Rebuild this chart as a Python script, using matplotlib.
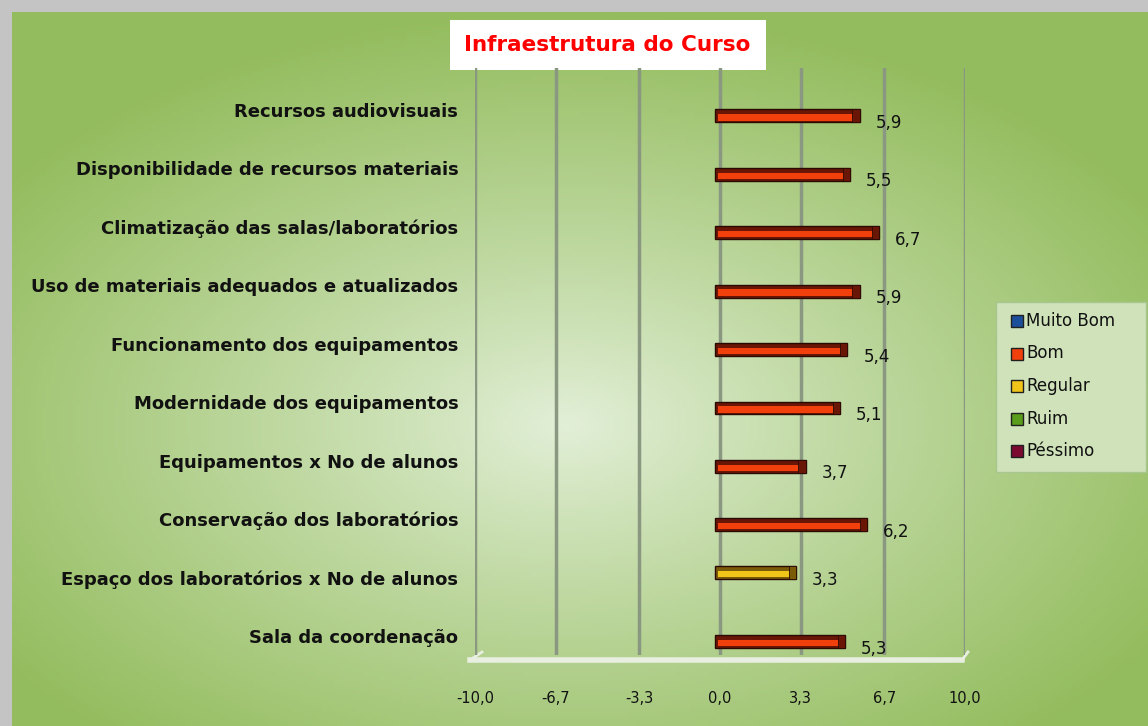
import matplotlib.pyplot as plt
import numpy as np
from matplotlib.patches import Rectangle

# data, top to bottom
categorias = ['Recursos audiovisuais',
              'Disponibilidade de recursos materiais',
              'Climatização das salas/laboratórios',
              'Uso de materiais adequados e atualizados',
              'Funcionamento dos equipamentos',
              'Modernidade dos equipamentos',
              'Equipamentos x No de alunos',
              'Conservação dos laboratórios',
              'Espaço dos laboratórios x No de alunos',
              'Sala da coordenação']
valores = [5.9, 5.5, 6.7, 5.9, 5.4, 5.1, 3.7, 6.2, 3.3, 5.3]
conceito = ['Bom', 'Bom', 'Bom', 'Bom', 'Bom', 'Bom', 'Bom', 'Bom', 'Regular', 'Bom']
series = ['Muito Bom', 'Bom', 'Regular', 'Ruim', 'Péssimo']
ticks = [-10.0, -6.7, -3.3, 0.0, 3.3, 6.7, 10.0]

cores = {'Muito Bom': '#1b4f9c', 'Bom': '#f2400c', 'Regular': '#f0c418',
         'Ruim': '#5a9c1c', 'Péssimo': '#7c0a30'}
escuras = {'Muito Bom': '#0c2550', 'Bom': '#6a1606', 'Regular': '#7a5c08',
           'Ruim': '#244010', 'Péssimo': '#3a0418'}
desloc = {'Bom': 0.1, 'Regular': -0.08}

fig = plt.figure(figsize=(11.48, 7.26), dpi=100)

# background: grey frame + green radial gradient
bg = fig.add_axes([0, 0, 1, 1])
bg.set_xlim(0, 1148)
bg.set_ylim(726, 0)
bg.axis('off')
bg.add_patch(Rectangle((0, 0), 1148, 726, color='#c4c4c4'))
xx, yy = np.meshgrid(np.linspace(0, 1148, 300), np.linspace(0, 726, 200))
r = np.sqrt(((xx - 560) / 700) ** 2 + ((yy - 420) / 420) ** 2)
r = np.clip(r, 0, 1) ** 0.9
c0 = np.array([0.89, 0.94, 0.85])
c1 = np.array([0.58, 0.74, 0.37])
img = c0[None, None, :] * (1 - r[..., None]) + c1[None, None, :] * r[..., None]
bg.imshow(img, extent=(12, 1148, 726, 12), aspect='auto', zorder=1)

# title box
bg.add_patch(Rectangle((450, 20), 316, 50, facecolor='white', edgecolor='none', zorder=2))
bg.text(607, 45, 'Infraestrutura do Curso', color='#ff0000', fontsize=15.5,
        fontweight='bold', ha='center', va='center', zorder=3)

# legend box
bg.add_patch(Rectangle((996, 302), 150, 170, facecolor='#cfe2b9', edgecolor='#a8c690',
                       linewidth=1, zorder=2))
for i, s in enumerate(series):
    yl = 321 + i * 32.5
    bg.add_patch(Rectangle((1011, yl - 6), 12, 12, facecolor=cores[s],
                           edgecolor='#202020', linewidth=1, zorder=3))
    bg.text(1026, yl, s, fontsize=12, va='center', ha='left', color='#111111', zorder=3)

# floor of 3D chart
bg.plot([470, 962], [660, 660], color='#e8eee0', linewidth=4, zorder=2)
bg.plot([470, 482], [660, 652], color='#e8eee0', linewidth=2, zorder=2)
bg.plot([962, 968], [660, 652], color='#e8eee0', linewidth=2, zorder=2)

ax = fig.add_axes([475 / 1148, 1 - 655 / 726, 490 / 1148, 587 / 726])
ax.patch.set_alpha(0)
ax.set_xlim(-10, 10)
ax.set_ylim(9.33, -0.72)
for t in ticks:
    ax.axvline(t, color='#8a9882', linewidth=2.5, zorder=1)
for sp in ax.spines.values():
    sp.set_visible(False)

pos = np.arange(len(categorias))
for i, (v, c) in enumerate(zip(valores, conceito)):
    y = pos[i] + desloc[c]
    ax.barh(y, v, height=0.22, left=-0.2, color=escuras[c], edgecolor='#2a0a00',
            linewidth=1.0, zorder=3)
    ax.barh(y + 0.025, v - 0.35, height=0.11, left=-0.1, color=cores[c], zorder=4)
    ax.barh(y, 0.3, height=0.22, left=v - 0.5, color=escuras[c], edgecolor='#2a0a00',
            linewidth=0.6, zorder=4)
    ax.text(v + 0.45, y + 0.12, f'{v:.1f}'.replace('.', ','), fontsize=12,
            ha='left', va='center', color='#111111', zorder=5)

ax.set_yticks(pos)
ax.set_yticklabels(categorias, fontsize=13, fontweight='bold', color='#111111')
ax.tick_params(axis='y', length=0, pad=12)
ax.set_xticks(ticks)
ax.set_xticklabels([f'{t:.1f}'.replace('.', ',') for t in ticks], fontsize=10.5,
                   color='#111111')
ax.tick_params(axis='x', length=0, pad=26)

fig.savefig('out.png', dpi=100)
